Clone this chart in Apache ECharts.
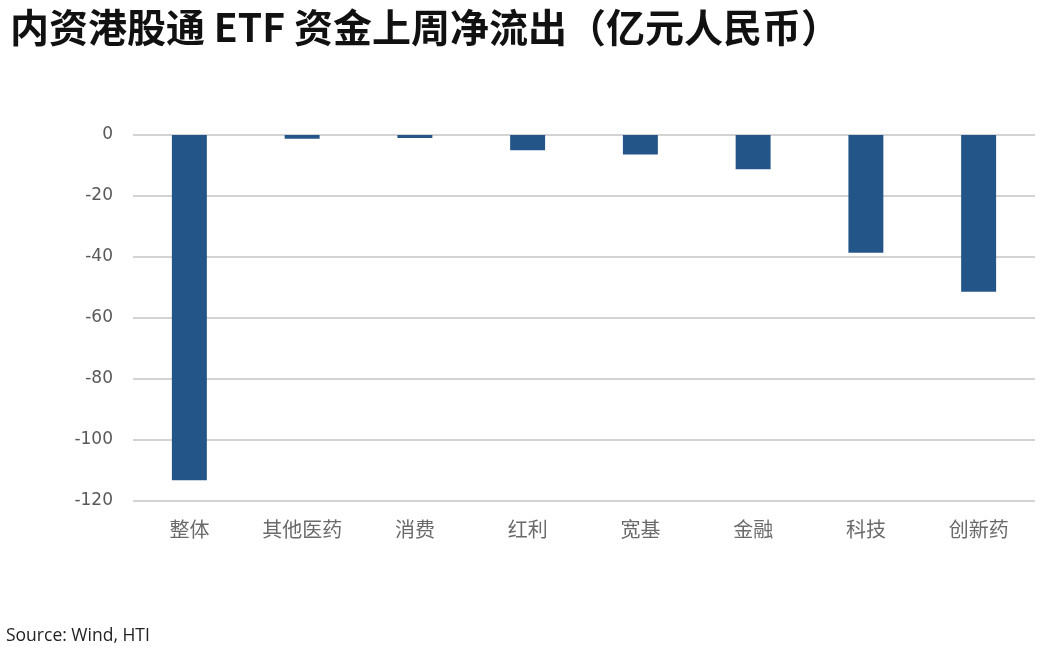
<!DOCTYPE html>
<html>
<head>
<meta charset="utf-8">
<script src="https://cdn.jsdelivr.net/npm/echarts@6/dist/echarts.min.js"></script>
<style>
html,body{margin:0;padding:0;background:#fff;}
#chart{width:1044px;height:660px;}
</style>
</head>
<body>
<div id="chart"></div>
<script>
const categories = ['整体', '其他医药', '消费', '红利', '宽基', '金融', '科技', '创新药'];
const values = [-113.2, -1.2, -1.0, -5.0, -6.4, -11.2, -38.6, -51.4];
const titleText = '内资港股通 ETF 资金上周净流出（亿元人民币）';
const sourceText = 'Source: Wind, HTI';

const chart = echarts.init(document.getElementById('chart'));
chart.setOption({
  backgroundColor: '#fff',
  animation: false,
  title: {
    text: titleText,
    left: 5,
    top: 3,
    textStyle: {
      fontFamily: 'Noto Sans CJK SC',
      fontWeight: 'bold',
      fontSize: 39,
      color: '#111'
    }
  },
  graphic: [{
    type: 'text',
    left: 6,
    top: 627,
    style: {
      text: sourceText,
      font: '17.5px "Open Sans"',
      fill: '#222'
    }
  }],
  grid: { left: 133, right: 9, top: 135, bottom: 159, containLabel: false },
  xAxis: {
    type: 'category',
    data: categories,
    axisLine: { show: false },
    axisTick: { show: false },
    axisLabel: {
      margin: 18,
      fontFamily: 'Noto Sans CJK SC',
      fontSize: 20,
      color: '#6a6a6a'
    }
  },
  yAxis: {
    type: 'value',
    min: -120,
    max: 0,
    interval: 20,
    axisLine: { show: false },
    axisTick: { show: false },
    splitLine: { lineStyle: { color: '#c4c4c4', width: 1.5 } },
    axisLabel: {
      margin: 20,
      fontFamily: 'DejaVu Sans',
      fontSize: 17,
      color: '#595959'
    }
  },
  series: [{
    type: 'bar',
    data: values,
    barWidth: '31%',
    itemStyle: { color: '#245589' }
  }]
});
</script>
</body>
</html>
